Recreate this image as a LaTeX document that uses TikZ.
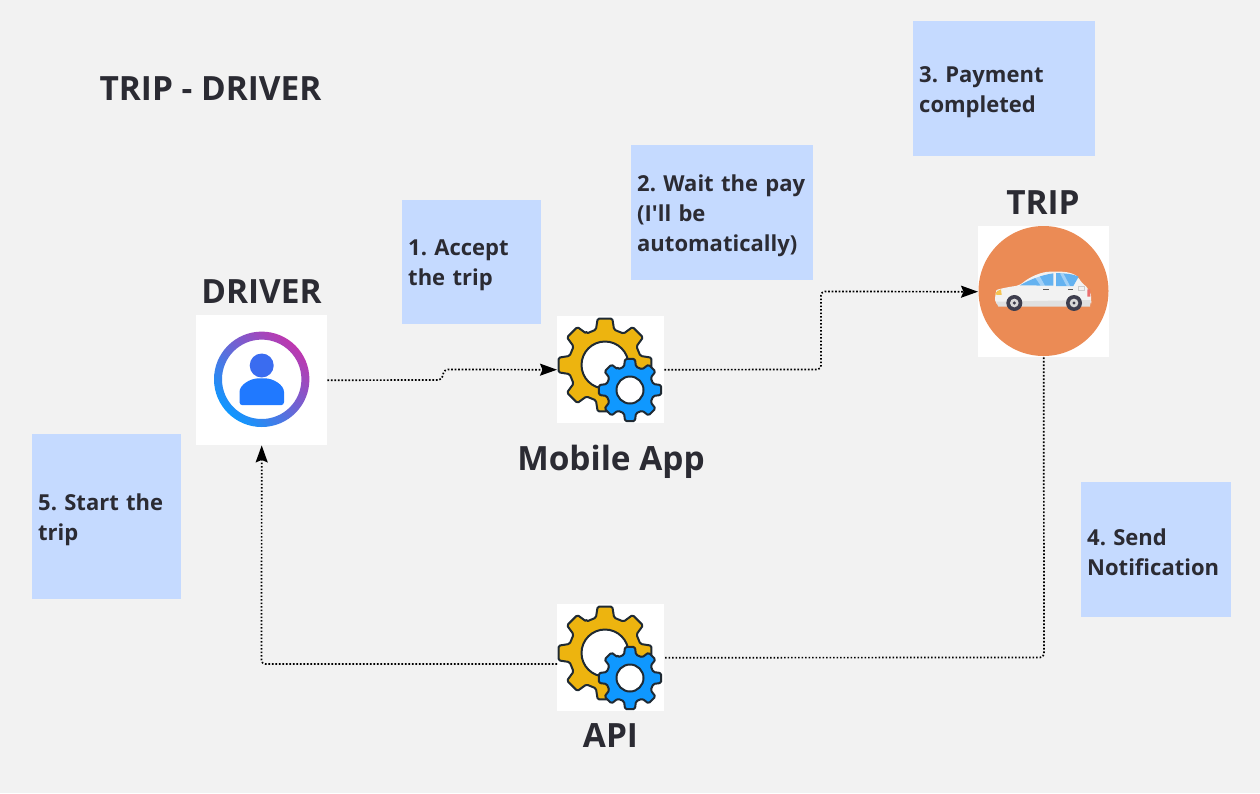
\documentclass[tikz,border=0pt]{standalone}
\usepackage{fontspec}
\setmainfont{Open Sans}
\usetikzlibrary{arrows.meta,calc}
\definecolor{bgc}{HTML}{F2F2F2}
\definecolor{notec}{HTML}{C5DAFF}
\definecolor{inkc}{HTML}{2B2B33}
\definecolor{orangec}{HTML}{EB8B55}
\definecolor{gearY}{HTML}{EDB40F}
\definecolor{gearB}{HTML}{0F98FF}
\definecolor{gearE}{HTML}{1F2A33}
\definecolor{ringP}{HTML}{BE37AF}
\definecolor{headc}{HTML}{3A6CF0}
\definecolor{bodyc}{HTML}{2079FF}
\definecolor{glassc}{HTML}{64B2F0}
\definecolor{lampc}{HTML}{F5C350}
\definecolor{tailc}{HTML}{EB6E6E}
\definecolor{tyrec}{HTML}{3E3E4E}
\tikzset{
  x=1pt,y=-1pt,
  note/.style={fill=notec,anchor=north west,inner sep=6pt,align=left,font=\fontsize{22}{30}\selectfont\bfseries\frenchspacing,text=inkc,execute at begin node={\rule{0pt}{22pt}}},
  title/.style={font=\fontsize{33.4}{36}\selectfont\bfseries,text=inkc},
  iconbox/.style={fill=white,anchor=north west,inner sep=0pt},
  connplain/.style={draw=black,line width=1.7pt,dash pattern=on 1.6pt off 1.9pt,rounded corners=4pt},
  conn/.style={connplain,-{Stealth[length=17pt,width=12pt,inset=2.5pt,sep=0pt]}},
}
% \geardraw{cx}{cy}{rootR}{tipR}{teeth}{phase}{holeR}{fill}
\newcommand{\geardraw}[8]{%
  \pgfmathsetmacro{\gstep}{360/#5}%
  \pgfmathsetmacro{\gz}{#6+\gstep}%
  \path[fill=#8,draw=gearE,line width=2pt,line join=round,rounded corners=1.5pt]
    ({#1+cos(\gz-0.32*\gstep)*#3},{#2-sin(\gz-0.32*\gstep)*#3})
    \foreach \gi [evaluate=\gi as \ga using #6+\gi*\gstep] in {1,...,#5}{
      -- ({#1+cos(\ga-0.32*\gstep)*#3},{#2-sin(\ga-0.32*\gstep)*#3})
      -- ({#1+cos(\ga-0.2*\gstep)*#4},{#2-sin(\ga-0.2*\gstep)*#4})
      -- ({#1+cos(\ga+0.2*\gstep)*#4},{#2-sin(\ga+0.2*\gstep)*#4})
      -- ({#1+cos(\ga+0.32*\gstep)*#3},{#2-sin(\ga+0.32*\gstep)*#3})
    } -- cycle;
  \path[fill=white,draw=gearE,line width=2pt] (#1,#2) circle[radius=#7];
}
\newcommand{\gearsicon}[2]{%
  \begin{scope}[shift={(#1,#2)}]
    \geardraw{48}{49}{36.5}{47}{8}{90}{23.5}{gearY}
    \geardraw{73}{74}{24}{31.5}{8}{90}{13.5}{gearB}
  \end{scope}}
\begin{document}
\begin{tikzpicture}
\useasboundingbox (0,0) rectangle (1260,793);
\fill[bgc] (0,0) rectangle (1260,793);

\node[title,anchor=center] (heading) at (210.5,89) {TRIP - DRIVER};

% notes
\node[note,minimum width=139pt,minimum height=124pt,text width=127pt] (n1) at (402,200) {1. Accept\\the trip};
\node[note,minimum width=182pt,minimum height=135pt,text width=170pt] (n2) at (631,145) {2. Wait the pay\\(I\textquotesingle ll be\\automatically)};
\node[note,minimum width=182pt,minimum height=135pt,text width=170pt] (n3) at (913,21) {3. Payment\\completed};
\node[note,minimum width=150pt,minimum height=135pt,text width=138pt] (n4) at (1081,482) {4. Send\\Notification};
\node[note,minimum width=149pt,minimum height=165pt,text width=137pt] (n5) at (32,434) {5. Start the\\trip};

% icon boxes
\node[iconbox,minimum width=131pt,minimum height=130pt] (driver) at (196,315) {};
\node[iconbox,minimum width=107pt,minimum height=107pt] (app) at (557,316) {};
\node[iconbox,minimum width=131pt,minimum height=131pt] (trip) at (978,226) {};
\node[iconbox,minimum width=107pt,minimum height=107pt] (api) at (557,604) {};

% driver icon
\shade[even odd rule,bottom color=gearB,top color=ringP,shading angle=-45]
  (261.7,379.3) circle[radius=47.7] (261.7,379.3) circle[radius=39.7];
\fill[headc] (261.7,365.5) circle[radius=12];
\fill[bodyc,rounded corners=3pt]
  (239.5,405.2) -- (239.5,395) .. controls (239.5,385) and (250,378.3) .. (261.7,378.3)
  .. controls (273.5,378.3) and (284,385) .. (284,395) -- (284,405.2) -- cycle;

% gears
\gearsicon{557}{316}
\gearsicon{557}{604}

% trip icon
\fill[orangec] (1043.5,291) circle[radius=65];
\begin{scope}[shift={(970,220)},x=0.3333pt,y=-0.3333pt]
  \fill[white!95!black,rounded corners=5pt]
    (75,255) -- (75,225) .. controls (80,208) and (120,200) .. (148,197)
    .. controls (180,170) and (215,155) .. (255,155)
    .. controls (295,155) and (320,162) .. (335,190)
    .. controls (350,200) and (362,220) .. (365,240) -- (362,258) -- cycle;
  \fill[black!12] (78,245) -- (362,240) -- (360,260) -- (85,260) -- cycle;
  \fill[glassc] (150,196) .. controls (180,178) and (215,165) .. (250,160) -- (250,197) -- cycle;
  \fill[glassc] (258,159) .. controls (285,160) and (310,162) .. (326,170) -- (310,198) -- (258,198) -- cycle;
  \fill[white,opacity=.4] (195,172) -- (208,167) -- (225,197) -- (212,197) -- cycle;
  \fill[white,opacity=.4] (270,160) -- (280,160) -- (300,198) -- (290,198) -- cycle;
  \fill[lampc] (76,224) .. controls (78,214) and (85,210) .. (93,208) -- (95,225) -- cycle;
  \fill[tailc] (352,208) -- (360,208) -- (361,230) -- (352,230) -- cycle;
  \draw[black!20,line width=.5pt] (326,198) rectangle (342,212);
  \fill[black!65] (220,206) rectangle (236,210);
  \fill[black!65] (295,206) rectangle (310,210);
  \foreach \wx in {133,312}{
    \fill[tyrec] (\wx,249) circle[radius=24];
    \fill[black!15] (\wx,249) circle[radius=13];
    \fill[tyrec] (\wx,249) circle[radius=5];
  }
\end{scope}

% labels
\node[title,anchor=center] (ldriver) at (261.5,292) {DRIVER};
\node[title,anchor=center] (lapp) at (611,461.5) {Mobile App};
\node[title,anchor=center] (ltrip) at (1043,203) {TRIP};
\node[title,anchor=center] (lapi) at (610.5,736) {API};

% connectors
\draw[conn] (driver.east) -- (442,380) -- (444,369.5) -- (app.west);
\draw[conn] (app.east) -- (821,369.5) -- (821,291.5) -- (trip.west);
\draw[connplain] (trip.south) -- (1044,657.5) -- (api.east);
\draw[conn] (api.west |- 0,664) -- (261.5,664) -- (driver.south);
\end{tikzpicture}
\end{document}
